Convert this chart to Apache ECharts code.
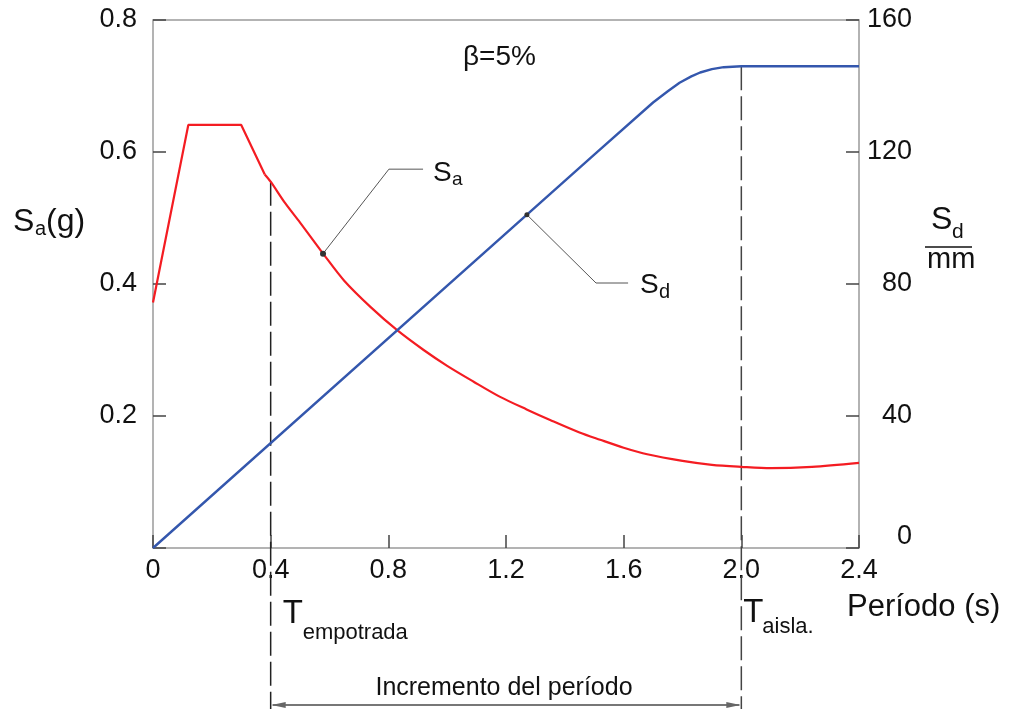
<!DOCTYPE html>
<html>
<head>
<meta charset="utf-8">
<script src="https://cdn.jsdelivr.net/npm/echarts@6/dist/echarts.min.js"></script>
<style>
  html, body { margin: 0; padding: 0; background: #fff; }
  #chart { width: 1014px; height: 709px; }
</style>
</head>
<body>
<div id="chart"></div>
<script>
// espectro de aceleración Sa (g) frente al período T (s)
var saT = [0, 0.12, 0.30, 0.38, 0.40, 0.45, 0.50, 0.58, 0.65, 0.74, 0.83, 0.92, 1.00, 1.09, 1.18, 1.27, 1.35, 1.45, 1.52, 1.60, 1.68, 1.80, 1.90, 2.00, 2.10, 2.24, 2.40];
var saV = [0.372, 0.641, 0.641, 0.566, 0.555, 0.522, 0.493, 0.445, 0.405, 0.365, 0.330, 0.300, 0.276, 0.252, 0.229, 0.210, 0.194, 0.175, 0.164, 0.152, 0.142, 0.132, 0.126, 0.123, 0.121, 0.123, 0.129];
// espectro de desplazamiento Sd (mm)
var sdT = [0, 1.50, 1.70, 1.75, 1.79, 1.83, 1.86, 1.90, 1.94, 2.00, 2.40];
var sdV = [0, 119.2, 135.0, 138.4, 141.0, 142.9, 144.1, 145.1, 145.7, 146.0, 146.0];
// periodos marcados
var tEmpotrada = 0.40;
var tAislada = 2.00;
// ticks
var xTicks = [0, 0.4, 0.8, 1.2, 1.6, 2.0, 2.4];
var saTicks = [0, 0.2, 0.4, 0.6, 0.8];
var sdTicks = [0, 40, 80, 120, 160];
// lineas de llamada (punto sobre la curva, codo, final)
var saLeader = [[0.578, 0.446], [0.802, 0.574], [0.918, 0.574]];
var sdLeader = [[1.271, 101.0], [1.506, 80.3], [1.615, 80.3]];

var FONT = '"Liberation Sans", Arial, sans-serif';
var chart = echarts.init(document.getElementById('chart'));

function zip(a, b) {
  var out = [];
  for (var i = 0; i < a.length; i++) out.push([a[i], b[i]]);
  return out;
}

// tramo recto (meseta) y tramo curvo del espectro
var saPts = zip(saT, saV);
var kink = saT.indexOf(0.38);
var saFlat = saPts.slice(0, kink + 1);
var saCurve = saPts.slice(kink);

var tickStyle = { show: true, inside: true, length: 13, lineStyle: { color: '#444', width: 1.5 } };

chart.setOption({
  animation: false,
  grid: { left: 153, right: 155, top: 20, bottom: 161, show: true, borderColor: '#9a9a9a', borderWidth: 1.5 },
  xAxis: {
    type: 'value', min: xTicks[0], max: xTicks[xTicks.length - 1], interval: 0.4,
    axisLine: { show: false }, splitLine: { show: false },
    axisTick: tickStyle,
    axisLabel: {
      margin: 9, fontSize: 27, color: '#111', fontFamily: FONT,
      formatter: function(v) { return v === 0 ? '0' : v.toFixed(1); }
    }
  },
  yAxis: [{
    type: 'value', min: saTicks[0], max: saTicks[saTicks.length - 1], interval: 0.2,
    axisLine: { show: false }, splitLine: { show: false },
    axisTick: tickStyle,
    axisLabel: {
      margin: 16, fontSize: 27, color: '#111', fontFamily: FONT,
      formatter: function(v) { return v === 0 ? '' : v.toFixed(1); }
    }
  }, {
    type: 'value', position: 'right', min: sdTicks[0], max: sdTicks[sdTicks.length - 1], interval: 40,
    axisLine: { show: false }, splitLine: { show: false },
    axisTick: tickStyle,
    axisLabel: {
      margin: 53, align: 'right', fontSize: 27, color: '#111', fontFamily: FONT,
      formatter: function(v) { return v === 0 ? '{z|0}' : String(v); },
      rich: { z: { fontSize: 27, color: '#111', fontFamily: FONT, padding: [0, 0, 22, 0] } }
    }
  }],
  series: [{
    name: 'Sa', type: 'line', yAxisIndex: 0, data: saFlat,
    showSymbol: false, lineStyle: { color: '#f41c22', width: 2.2 }, z: 3
  }, {
    name: 'Sa', type: 'line', yAxisIndex: 0, data: saCurve, smooth: 0.3,
    showSymbol: false, lineStyle: { color: '#f41c22', width: 2.2 }, z: 3
  }, {
    name: 'Sd', type: 'line', yAxisIndex: 1, data: zip(sdT, sdV),
    showSymbol: false, lineStyle: { color: '#3457ad', width: 2.4 }, z: 3
  }, {
    type: 'line', yAxisIndex: 0, data: saLeader, symbol: 'circle',
    symbolSize: function(v, p) { return p.dataIndex === 0 ? 6 : 0; },
    itemStyle: { color: '#333' }, lineStyle: { color: '#555', width: 1 }, z: 4
  }, {
    type: 'line', yAxisIndex: 1, data: sdLeader, symbol: 'circle',
    symbolSize: function(v, p) { return p.dataIndex === 0 ? 5 : 0; },
    itemStyle: { color: '#333' }, lineStyle: { color: '#555', width: 1 }, z: 4
  }]
});

// elementos de anotación fuera del area del grafico
function px(t, v, axis) {
  return chart.convertToPixel({ xAxisIndex: 0, yAxisIndex: axis }, [t, v]);
}
function txt(x, y, s, size, align) {
  return { type: 'text', x: x, y: y, z: 10,
    style: { text: s, fontSize: size, fontFamily: FONT, fill: '#111', align: align || 'left', verticalAlign: 'middle' } };
}

var pE = px(tEmpotrada, saV[saT.indexOf(tEmpotrada)], 0);
var pA = px(tAislada, sdV[sdT.indexOf(tAislada)], 1);
var saEnd = px(saLeader[2][0], saLeader[2][1], 0);
var sdEnd = px(sdLeader[2][0], sdLeader[2][1], 1);
var arrowY = 705;
var dash = { stroke: '#222', lineWidth: 1.5, lineDash: [24, 6] };

chart.setOption({
  graphic: [
    { type: 'line', z: 2, shape: { x1: pE[0], y1: pE[1], x2: pE[0], y2: 709 }, style: dash },
    { type: 'line', z: 2, shape: { x1: pA[0], y1: pA[1], x2: pA[0], y2: 709 }, style: { stroke: '#444', lineWidth: 1.5, lineDash: [24, 6] } },
    { type: 'line', shape: { x1: pE[0] + 2, y1: arrowY, x2: pA[0] - 2, y2: arrowY }, style: { stroke: '#777', lineWidth: 2 } },
    { type: 'polygon', shape: { points: [[pE[0] + 1, arrowY], [pE[0] + 15, arrowY - 3], [pE[0] + 15, arrowY + 3]] }, style: { fill: '#666' } },
    { type: 'polygon', shape: { points: [[pA[0] - 1, arrowY], [pA[0] - 15, arrowY - 3], [pA[0] - 15, arrowY + 3]] }, style: { fill: '#666' } },
    txt(504, 688, 'Incremento del período', 25, 'center'),

    txt(463, 57, 'β=5%', 28),

    txt(13, 222, 'S', 32), txt(35, 229, 'a', 20), txt(46, 222, '(g)', 32),

    txt(931, 220, 'S', 32), txt(952, 232, 'd', 21),
    { type: 'line', shape: { x1: 925, y1: 247, x2: 972, y2: 247 }, style: { stroke: '#111', lineWidth: 1.5 } },
    txt(927, 260, 'mm', 29),

    txt(saEnd[0] + 10, saEnd[1] + 4, 'S', 28), txt(saEnd[0] + 29, saEnd[1] + 11, 'a', 19),
    txt(sdEnd[0] + 12, sdEnd[1] + 2, 'S', 28), txt(sdEnd[0] + 31, sdEnd[1] + 9, 'd', 20),

    txt(pE[0] + 12, 614, 'T', 33), txt(pE[0] + 32, 633, 'empotrada', 22),
    txt(pA[0] + 2, 613, 'T', 33), txt(pA[0] + 21, 627, 'aisla.', 22),
    txt(847, 607, 'Período (s)', 31)
  ]
});
</script>
</body>
</html>
